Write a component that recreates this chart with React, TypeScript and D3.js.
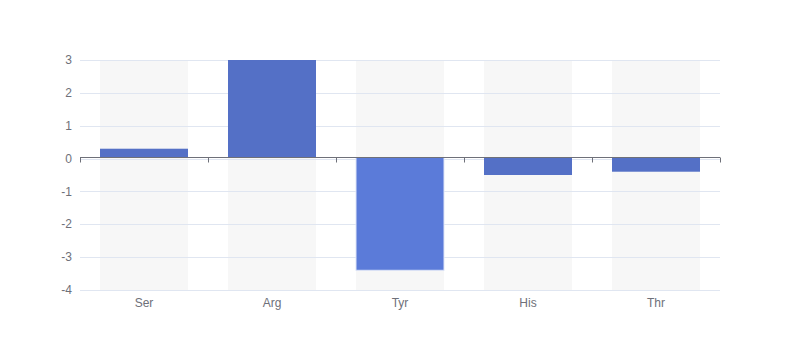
import React from "react";
import * as d3 from "d3";

const categories = ["Ser", "Arg", "Tyr", "His", "Thr"];
const values = [0.3, 3, -3.4, -0.5, -0.4];
const yTicks = [-4, -3, -2, -1, 0, 1, 2, 3];
const highlighted = "Tyr";

export default function App() {
  const W = 800, H = 360;
  const left = 80, right = 720, top = 60, bottom = 290;
  const x = d3.scaleBand<string>().domain(categories).range([left, right]).padding(0);
  const y = d3.scaleLinear().domain([-4, 3]).range([bottom, top]);
  const bw = x.bandwidth() * 0.6875;
  const y0 = y(0);
  const ay = Math.floor(y0) - 0.5;
  return (
    <svg width={W} height={H} style={{ position: "absolute", left: 0, top: 0, fontFamily: "sans-serif" }}>
      <rect width={W} height={H} fill="#fff" />
      {categories.map((c) => (
        <rect key={"bg" + c} x={x(c)! + (x.bandwidth() - bw) / 2} y={top} width={bw} height={bottom - top} fill="rgba(180,180,180,0.1)" />
      ))}
      {yTicks.map((t) => (
        <line key={"g" + t} x1={left} x2={right} y1={Math.round(y(t)) + 0.5} y2={Math.round(y(t)) + 0.5} stroke="#e0e6f1" />
      ))}
      {categories.map((c, i) => {
        const v = values[i];
        const yy = Math.min(y(v), ay);
        const hh = Math.abs(y(v) - ay);
        const hl = c === highlighted;
        return (
          <rect key={"b" + c} x={x(c)! + (x.bandwidth() - bw) / 2} y={yy} width={bw} height={hh}
            fill={hl ? "#5b7bd9" : "#5470c6"} stroke={hl ? "#dfe5f7" : "none"} strokeWidth={hl ? 1 : 0} />
        );
      })}
      <line x1={left} x2={right} y1={ay} y2={ay} stroke="#6e7079" />
      {[...categories.map((c) => x(c)!), right].map((px, i) => (
        <line key={"t" + i} x1={Math.round(px) + 0.5} x2={Math.round(px) + 0.5} y1={ay} y2={ay + 5} stroke="#6e7079" />
      ))}
      {yTicks.map((t) => (
        <text key={"yl" + t} x={left - 8} y={y(t)} dy="0.35em" textAnchor="end" fontSize={12} fill="#6e7079">{t}</text>
      ))}
      {categories.map((c) => (
        <text key={"xl" + c} x={x(c)! + x.bandwidth() / 2} y={bottom + 8} dy="0.71em" textAnchor="middle" fontSize={12} fill="#6e7079">{c}</text>
      ))}
    </svg>
  );
}
